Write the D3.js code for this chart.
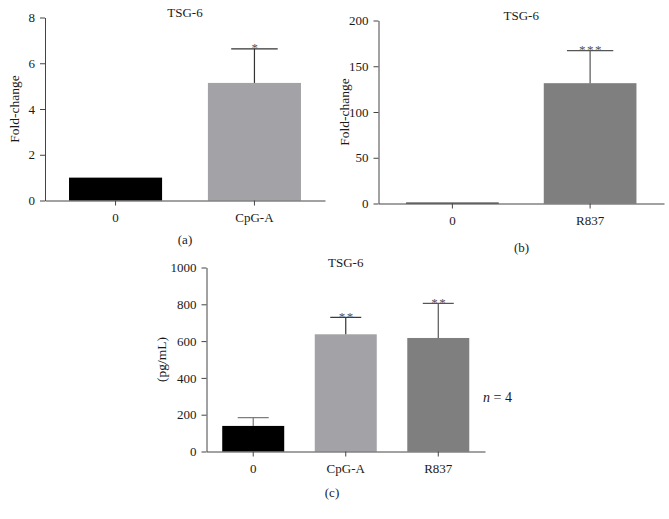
<!DOCTYPE html>
<html>
<head>
<meta charset="utf-8">
<script src="https://cdn.jsdelivr.net/npm/d3@7"></script>
<style>
  body { margin: 0; background: #fff; }
  svg text { font-family: "Liberation Serif", "Times New Roman", serif; fill: #1a1a1a; }
</style>
</head>
<body>
<svg id="chart" width="669" height="519"></svg>
<script>
// Panel (a): fold-change, CpG-A
const aCategories = ["0", "CpG-A"]
const aValues = [1, 5.14]
const aUpper = [1, 6.63]
const aStars = ["", "*"]
const aTicks = [0, 2, 4, 6, 8]

// Panel (b): fold-change, R837
const bCategories = ["0", "R837"]
const bValues = [1, 131.5]
const bUpper = [1, 167]
const bStars = ["", "***"]
const bTicks = [0, 50, 100, 150, 200]

// Panel (c): protein, pg/mL
const cCategories = ["0", "CpG-A", "R837"]
const cValues = [139, 637, 617]
const cUpper = [184, 729, 805]
const cStars = ["", "**", "**"]
const cTicks = [0, 200, 400, 600, 800, 1000]

const barColors = { "0": "#000000", "CpG-A": "#a2a2a7", "R837": "#7f7f7f" }
const errColors = { "0": "#777777", "CpG-A": "#333333", "R837": "#555555" }

let svg = d3.select('#chart')

function drawPanel(opts) {
  let g = svg.append('g')

  let x = d3.scaleBand()
    .domain(opts.categories)
    .range([opts.x0, opts.x1])
    .paddingInner(opts.padIn)
    .paddingOuter(opts.padOut)

  let y = d3.scaleLinear()
    .domain([0, opts.ticks[opts.ticks.length - 1]])
    .range([opts.y0, opts.y1])

  let rows = opts.categories.map((c, i) => ({
    cat: c, value: opts.values[i], upper: opts.upper[i], star: opts.stars[i]
  }))

  // Bars
  g.selectAll('rect.bar')
    .data(rows)
    .enter()
    .append('rect')
    .attr('class', 'bar')
    .attr('x', d => x(d.cat))
    .attr('width', x.bandwidth())
    .attr('y', d => y(d.value))
    .attr('height', d => Math.max(0.8, y(0) - y(d.value)))
    .attr('fill', d => barColors[d.cat])

  // Error bars (upper only)
  let err = g.selectAll('g.err')
    .data(rows.filter(d => d.upper > d.value))
    .enter()
    .append('g')
    .attr('stroke', d => errColors[d.cat])
    .attr('stroke-width', 1.2)

  err.append('line')
    .attr('x1', d => x(d.cat) + x.bandwidth() / 2)
    .attr('x2', d => x(d.cat) + x.bandwidth() / 2)
    .attr('y1', d => y(d.value))
    .attr('y2', d => y(d.upper))

  err.append('line')
    .attr('x1', d => x(d.cat) + x.bandwidth() / 4)
    .attr('x2', d => x(d.cat) + x.bandwidth() * 3 / 4)
    .attr('y1', d => y(d.upper))
    .attr('y2', d => y(d.upper))

  // Significance stars
  g.selectAll('text.star')
    .data(rows.filter(d => d.star))
    .enter()
    .append('text')
    .attr('x', d => x(d.cat) + x.bandwidth() / 2 + 1)
    .attr('y', d => y(d.upper) + 3.5)
    .attr('text-anchor', 'middle')
    .attr('font-size', 13)
    .attr('letter-spacing', 1.5)
    .style('fill', '#555')
    .text(d => d.star)

  // Axes
  let yAxis = g.append('g')
    .attr('transform', `translate(${opts.x0},0)`)
    .call(d3.axisLeft(y).tickValues(opts.ticks).tickFormat(d3.format('d'))
      .tickSize(5).tickPadding(5).tickSizeOuter(0))
  yAxis.selectAll('text').attr('font-size', 13)

  let xAxis = g.append('g')
    .attr('transform', `translate(0,${opts.y0})`)
    .call(d3.axisBottom(x).tickSize(5).tickPadding(7).tickSizeOuter(0))
  xAxis.selectAll('text').attr('font-size', 13)

  g.selectAll('path.domain, .tick line').attr('stroke', '#444')

  // Title
  g.append('text')
    .attr('x', (opts.x0 + opts.x1) / 2)
    .attr('y', opts.y1 - 0.5)
    .attr('text-anchor', 'middle')
    .attr('font-size', 13)
    .text('TSG-6')

  // Y label
  g.append('text')
    .attr('transform', `translate(${opts.yLabelX},${(opts.y0 + opts.y1) / 2}) rotate(-90)`)
    .attr('text-anchor', 'middle')
    .attr('font-size', 13.5)
    .text(opts.yLabel)

  // Panel letter
  g.append('text')
    .attr('x', opts.letterX)
    .attr('y', opts.letterY)
    .attr('text-anchor', 'middle')
    .attr('font-size', 13)
    .text(opts.letter)
}

drawPanel({
  categories: aCategories, values: aValues, upper: aUpper, stars: aStars, ticks: aTicks,
  x0: 45, x1: 325, y0: 200.5, y1: 17.5, padIn: 0.33, padOut: 0.173,
  yLabel: 'Fold-change', yLabelX: 19, letter: '(a)', letterX: 185, letterY: 244
})

drawPanel({
  categories: bCategories, values: bValues, upper: bUpper, stars: bStars, ticks: bTicks,
  x0: 378.5, x1: 664, y0: 203.5, y1: 20.5, padIn: 0.327, padOut: 0.2,
  yLabel: 'Fold-change', yLabelX: 349, letter: '(b)', letterX: 521.5, letterY: 252
})

drawPanel({
  categories: cCategories, values: cValues, upper: cUpper, stars: cStars, ticks: cTicks,
  x0: 206.5, x1: 485, y0: 451.5, y1: 267.5, padIn: 0.33, padOut: 0.17,
  yLabel: '(pg/mL)', yLabelX: 166, letter: '(c)', letterX: 332, letterY: 497
})

// n = 4 note
let note = svg.append('text')
  .attr('x', 483)
  .attr('y', 402)
  .attr('font-size', 14)
note.append('tspan').attr('font-style', 'italic').text('n')
note.append('tspan').text(' = 4')
</script>
</body>
</html>
